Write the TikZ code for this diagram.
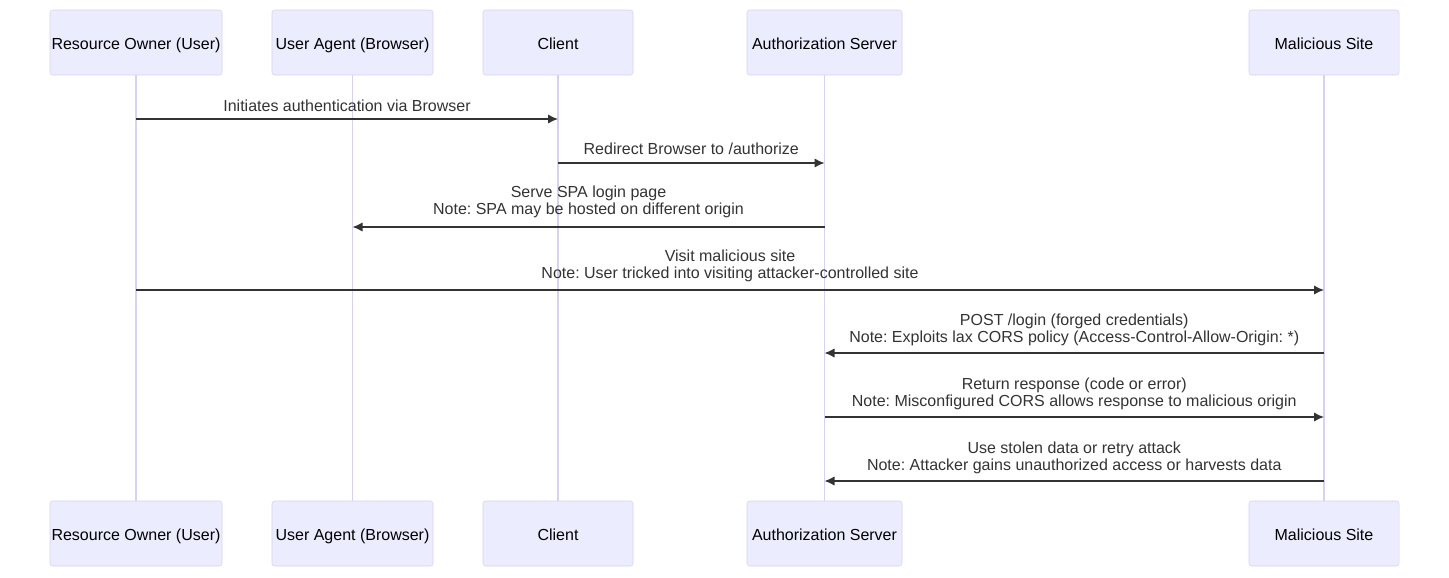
\documentclass[tikz,border=0pt]{standalone}
\usepackage{fontspec}
\setmainfont{Liberation Sans}
\usetikzlibrary{arrows.meta,calc}
\definecolor{actorfill}{HTML}{ECECFF}
\definecolor{actorline}{HTML}{D8D2F0}
\definecolor{msgline}{HTML}{333333}
\frenchspacing

\begin{document}
\begin{tikzpicture}[x=0.75pt,y=-0.75pt,
	actor/.style={draw=actorline,fill=actorfill,rounded corners=2pt,
		minimum height=48.75pt,inner sep=0pt,text height=10.5pt,text depth=0.7pt,
		font=\fontsize{12}{14}\selectfont},
	life/.style={draw=actorline,line width=1.2pt},
	msg/.style={draw=msgline,line width=1.1pt,-{Latex[length=7.5pt,width=7pt]}},
	lbl/.style={text=msgline,align=center,inner sep=0pt,font=\fontsize{12}{12.75}\selectfont}]
	\useasboundingbox (0,0) rectangle (1449,578);

	% participants, top and bottom
	\foreach \n/\x/\w/\txt in {RO/136/172/{Resource Owner (User)},
		UA/352.5/161/{User Agent (Browser)},
		CL/558/150/{Client},
		AS/824.5/155/{Authorization Server},
		MS/1324/150/{Malicious Site}}{
		\node[actor,minimum width=\w*0.75pt] (\n) at (\x,42.5) {\txt};
		\node[actor,minimum width=\w*0.75pt] (\n2) at (\x,533.5) {\txt};
		\draw[life] (\n.south) -- (\n2.north);
	}

	% messages
	\foreach \y/\ly/\from/\to/\txt in {
		119/105.5/RO/CL/{Initiates authentication via Browser},
		163/148.5/CL/AS/{Redirect Browser to /authorize},
		227/202/AS/UA/{Serve SPA login page\\Note: SPA may be hosted on different origin},
		290/266/RO/MS/{Visit malicious site\\Note: User tricked into visiting attacker-controlled site},
		353/330/MS/AS/{POST /login (forged credentials)\\Note: Exploits lax CORS policy (Access-Control-Allow-Origin: *)},
		417/394/AS/MS/{Return response (code or error)\\Note: Misconfigured CORS allows response to malicious origin},
		481/458/MS/AS/{Use stolen data or retry attack\\Note: Attacker gains unauthorized access or harvests data}}{
		\coordinate (row) at (0,\y);
		\coordinate (lrow) at (0,\ly);
		\draw[msg] (\from |- row) -- (\to |- row);
		\node[lbl] (m\y) at ($(\from |- lrow)!0.5!(\to |- lrow)$) {\txt};
	}
\end{tikzpicture}
\end{document}
